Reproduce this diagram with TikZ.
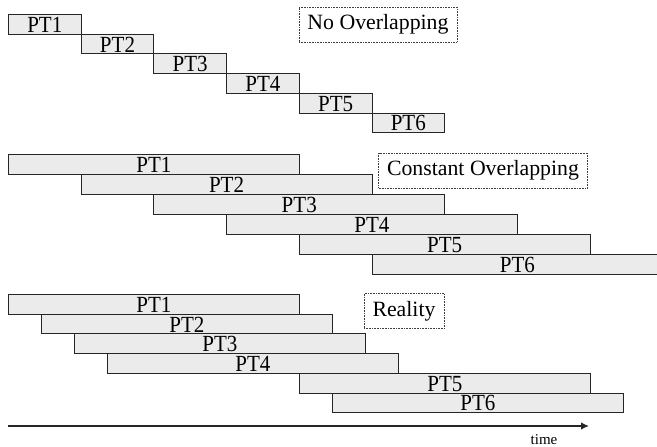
\documentclass[tikz,border=0pt]{standalone}
\usepackage{fontspec}
\setmainfont{Liberation Serif}
\usetikzlibrary{arrows.meta}
\newcommand{\ptlabel}[1]{\raisebox{-1pt}{\scalebox{1}[1.1]{#1}}}
\begin{document}
\begin{tikzpicture}[x=1pt,y=-1pt,
  ptbox/.style={draw=black!85, line width=0.9pt, fill=black!8, minimum height=19.7pt,
    inner sep=0pt, anchor=north west, font=\fontsize{21}{21}\selectfont, text depth=0pt},
  titlebox/.style={draw=black!75, densely dotted, line width=0.6pt, inner xsep=8.5pt, inner ysep=0pt,
    minimum height=35pt, font=\fontsize{21.8}{21.8}\selectfont},
  axis/.style={line width=1.3pt, draw=black!85, -{Latex[length=8pt,width=7.5pt]}}]
\useasboundingbox (0,0) rectangle (657,447);
\clip (0,0) rectangle (657,447);
% no overlapping
\foreach \i in {1,...,6}
  \node[ptbox, minimum width=72.7pt] (a\i) at ({8+72.7*(\i-1)},{14+19.7*(\i-1)}) {\ptlabel{PT\i}};
% constant overlapping
\foreach \i in {1,...,6}
  \node[ptbox, minimum width=290.8pt] (b\i) at ({8+72.7*(\i-1)},{154+20*(\i-1)}) {\ptlabel{PT\i}};
% reality
\node[ptbox, minimum width=290.8pt] (c1) at (8,294) {\ptlabel{PT1}};
\node[ptbox, minimum width=290.8pt] (c2) at (41,313.7) {\ptlabel{PT2}};
\node[ptbox, minimum width=290.8pt] (c3) at (74,333.4) {\ptlabel{PT3}};
\node[ptbox, minimum width=290.8pt] (c4) at (107,353.1) {\ptlabel{PT4}};
\node[ptbox, minimum width=290.8pt] (c5) at (299,372.8) {\ptlabel{PT5}};
\node[ptbox, minimum width=290.8pt] (c6) at (332,392.5) {\ptlabel{PT6}};
% titles
\node[titlebox] (t1) at (378,24.5) {No Overlapping};
\node[titlebox] (t2) at (483,170.5) {Constant Overlapping};
\node[titlebox] (t3) at (404,311) {Reality};
% time axis
\coordinate (s) at (8,426);
\coordinate (e) at (589,426);
\draw[axis] (s) -- (e);
\node[font=\fontsize{15}{15}\selectfont] (tl) at (544,440) {time};
\end{tikzpicture}
\end{document}
